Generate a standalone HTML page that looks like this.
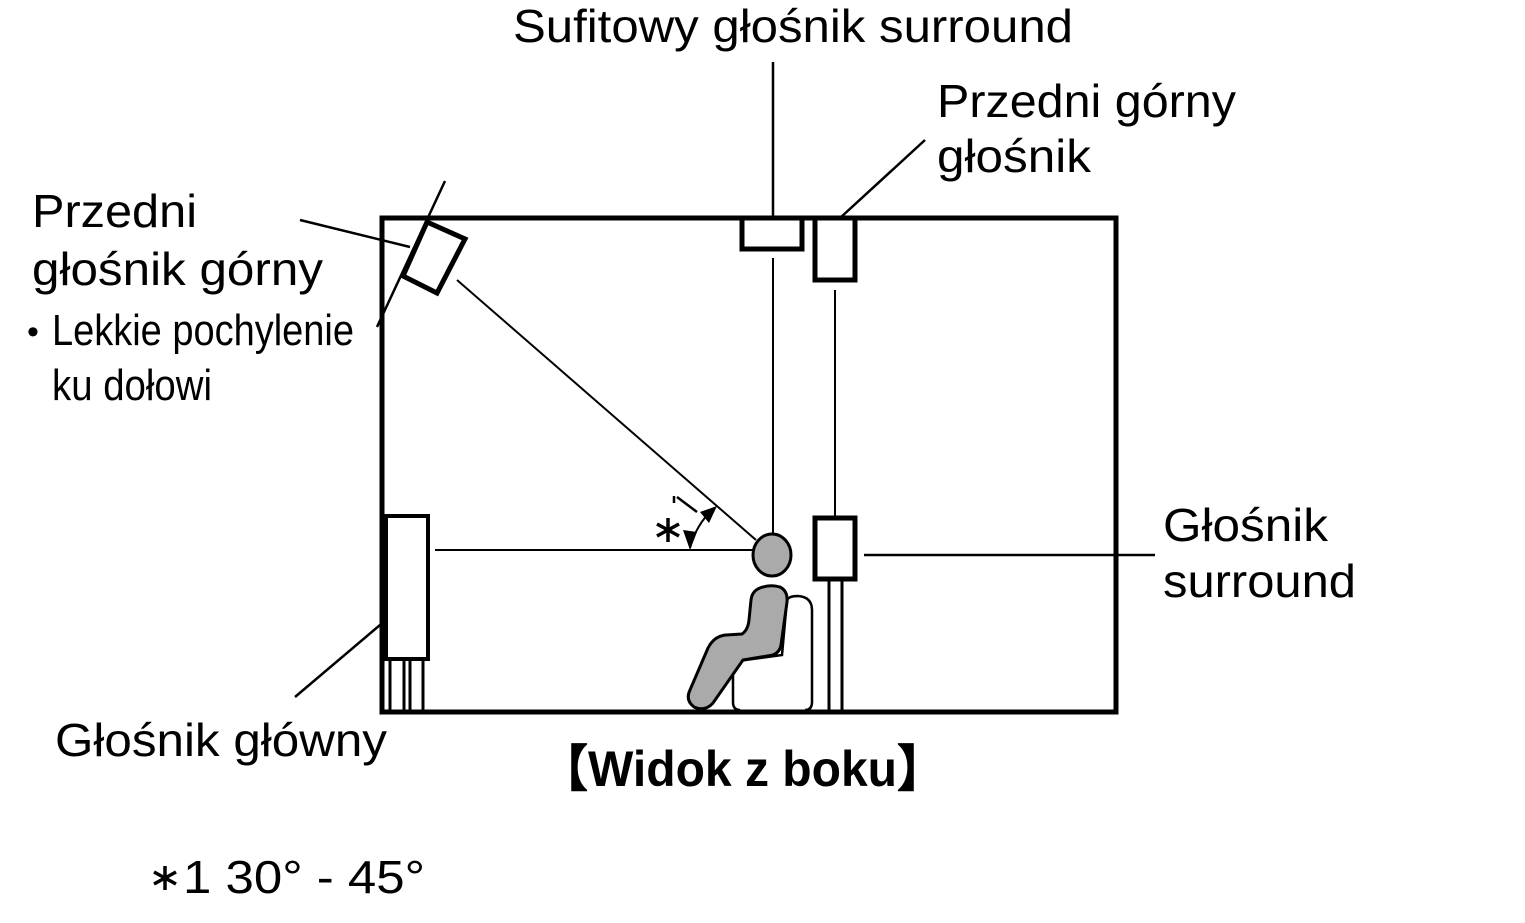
<!DOCTYPE html>
<html><head><meta charset="utf-8"><style>html,body{margin:0;padding:0;background:#fff}svg{display:block}</style></head>
<body>
<svg width="1525" height="923" viewBox="0 0 1525 923" xmlns="http://www.w3.org/2000/svg" font-family="Liberation Sans, sans-serif">
<rect width="1525" height="923" fill="#fff"/>
<g fill="none" stroke="#000">
<rect x="382" y="218" width="734" height="494" stroke-width="5"/>
<line x1="773" y1="62" x2="773" y2="218" stroke-width="2.5"/>
<line x1="840" y1="218" x2="925" y2="140" stroke-width="2.5"/>
<line x1="300" y1="220" x2="410" y2="247" stroke-width="2.5"/>
<line x1="445" y1="181" x2="377" y2="327" stroke-width="2.5"/>
<line x1="295" y1="697" x2="380" y2="625" stroke-width="2.5"/>
<line x1="864" y1="555" x2="1155" y2="555" stroke-width="2.5"/>
<line x1="773" y1="258" x2="773" y2="535" stroke-width="2"/>
<line x1="835" y1="290" x2="835" y2="517" stroke-width="2"/>
<line x1="435" y1="550" x2="753" y2="550" stroke-width="2"/>
<line x1="457" y1="280" x2="756" y2="540" stroke-width="2"/>
<rect x="742" y="218" width="60" height="31" stroke-width="5"/>
<rect x="815" y="218" width="40" height="62" stroke-width="5"/>
<polygon points="427,222 465,239 437,293 403,276" stroke-width="5"/>
<rect x="815" y="518" width="40" height="61" stroke-width="5"/>
<line x1="829" y1="581" x2="829" y2="712" stroke-width="3"/>
<line x1="842" y1="581" x2="842" y2="712" stroke-width="3"/>
<rect x="386" y="516" width="42" height="143" stroke-width="4"/>
<line x1="390" y1="660" x2="390" y2="712" stroke-width="3"/>
<line x1="404" y1="660" x2="404" y2="712" stroke-width="3"/>
<line x1="410" y1="660" x2="410" y2="712" stroke-width="3"/>
<line x1="423" y1="660" x2="423" y2="712" stroke-width="3"/>
<!-- chair -->
<path d="M740,710 Q733,710 733,702 L733,675 Q733,662 745,660 L782,655 L787,600 Q789,596 798,596 Q812,597 812,610 L812,702 Q812,710 805,710" stroke-width="2.5"/>
<path d="M690,548 A82,82 0 0 1 714,508" stroke-width="2"/>
</g>
<polygon points="690,550 683,530 697,532" fill="#000"/>
<polygon points="717,506 700,512 709,523" fill="#000"/>
<!-- person -->
<path d="M760,588 Q770,584 780,587 Q788,591 787,602 L781,645 Q780,652 773,655 L743,660 L713,703 Q705,712 694,707 Q685,700 690,690 L708,648 Q714,636 726,635 L742,634 Q748,630 749,620 L751,600 Q752,591 760,588 Z" fill="#aaa" stroke="#000" stroke-width="3"/>
<ellipse cx="772" cy="555" rx="19" ry="21" fill="#aaa" stroke="#000" stroke-width="3"/>
<!-- *1 near angle -->
<g stroke="#000" stroke-width="3.5">
<line x1="668" y1="518" x2="668" y2="542"/>
<line x1="657" y1="524" x2="679" y2="536"/>
<line x1="657" y1="536" x2="679" y2="524"/>
</g>
<path d="M674,496 L674,503 M677,497 L697,512" fill="none" stroke="#000" stroke-width="2.5"/>
<!-- *1 bottom -->
<g stroke="#000" stroke-width="3.5">
<line x1="165" y1="866" x2="165" y2="890"/>
<line x1="154" y1="872" x2="176" y2="884"/>
<line x1="154" y1="884" x2="176" y2="872"/>
</g>
<g fill="#000" font-size="46">
<text x="513" y="42" textLength="560" lengthAdjust="spacingAndGlyphs">Sufitowy głośnik surround</text>
<text x="937" y="117" textLength="299" lengthAdjust="spacingAndGlyphs">Przedni górny</text>
<text x="937" y="172" textLength="154" lengthAdjust="spacingAndGlyphs">głośnik</text>
<text x="32" y="227" textLength="165" lengthAdjust="spacingAndGlyphs">Przedni</text>
<text x="32" y="285" textLength="291" lengthAdjust="spacingAndGlyphs">głośnik górny</text>
<text x="27" y="343" font-size="34">•</text>
<text x="52" y="345" font-size="44" textLength="302" lengthAdjust="spacingAndGlyphs">Lekkie pochylenie</text>
<text x="52" y="400" font-size="44" textLength="160" lengthAdjust="spacingAndGlyphs">ku dołowi</text>
<text x="1163" y="541" textLength="165" lengthAdjust="spacingAndGlyphs">Głośnik</text>
<text x="1163" y="597" textLength="193" lengthAdjust="spacingAndGlyphs">surround</text>
<text x="55" y="756" textLength="332" lengthAdjust="spacingAndGlyphs">Głośnik główny</text>
<text x="540" y="786" font-size="50" font-weight="bold" textLength="405" lengthAdjust="spacingAndGlyphs">【Widok z boku】</text>
<text x="183" y="893" textLength="242" lengthAdjust="spacingAndGlyphs">1 30° - 45°</text>
</g>
</svg>
</body></html>
